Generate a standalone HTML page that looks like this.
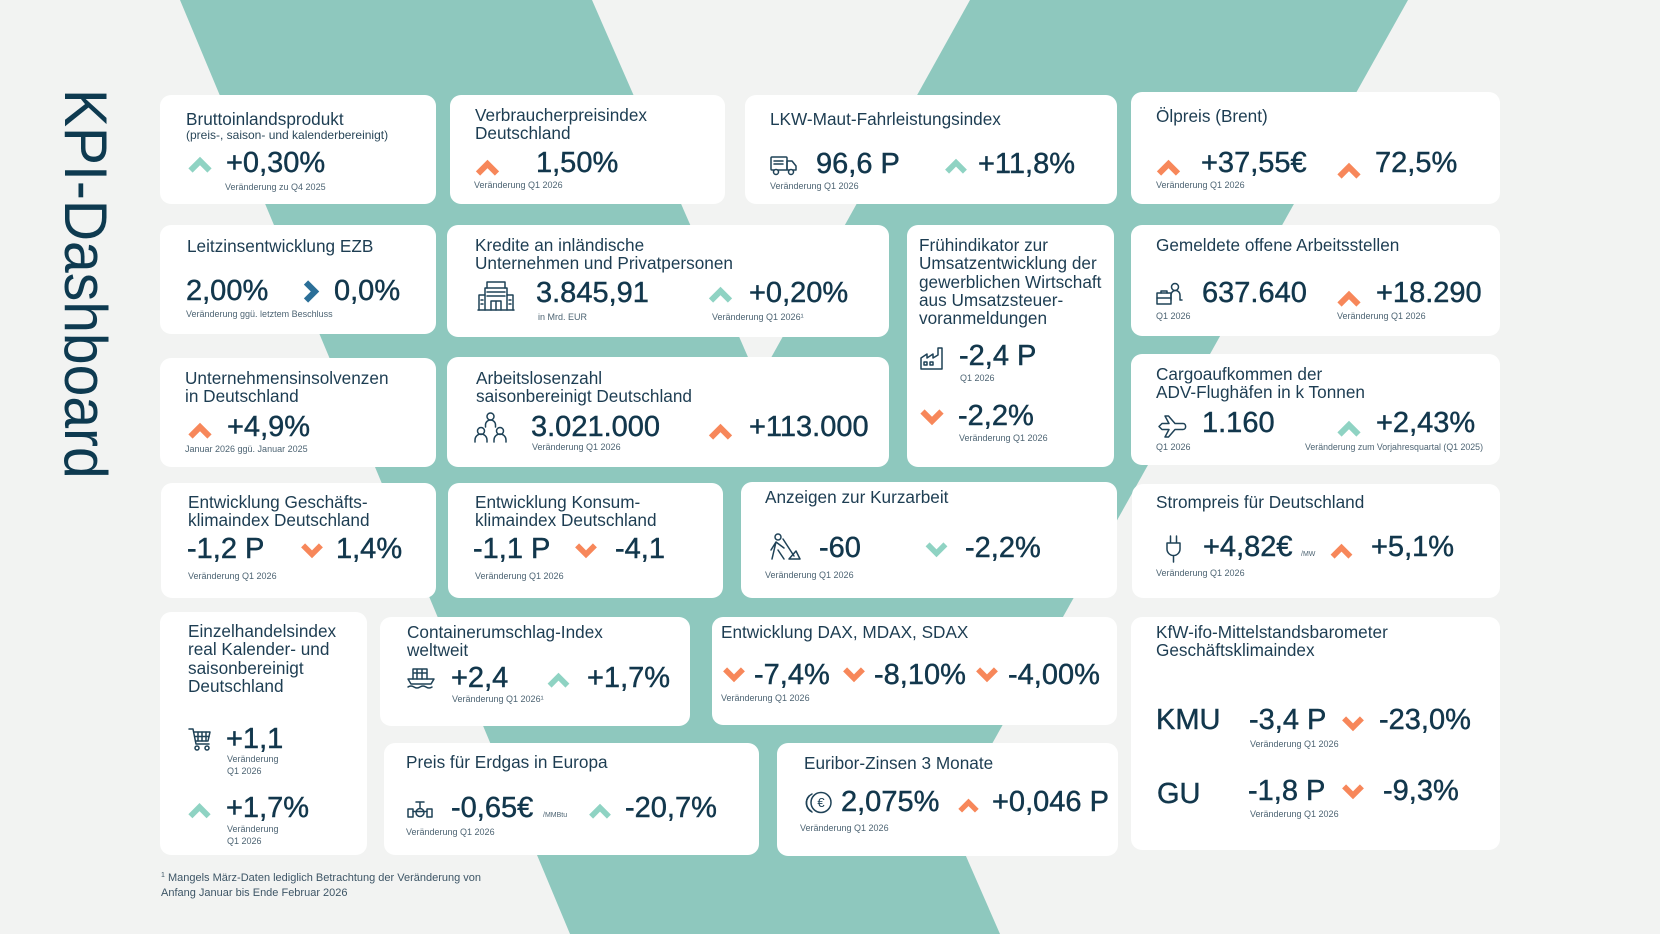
<!DOCTYPE html>
<html><head><meta charset="utf-8"><style>
*{margin:0;padding:0;box-sizing:border-box}
html,body{width:1660px;height:934px;overflow:hidden}
body{position:relative;background:#f2f3f2;font-family:"Liberation Sans",sans-serif}
.bg{position:absolute;left:0;top:0}
.c{position:absolute;background:#fff;border-radius:11px}
.t{position:absolute;font-size:17.2px;line-height:18.3px;color:#1d3d52;white-space:nowrap}
.s{position:absolute;font-size:12px;line-height:12px;color:#2a4759;white-space:nowrap}
.v{position:absolute;font-size:29px;line-height:29px;color:#12374c;white-space:nowrap;-webkit-text-stroke:0.45px #12374c}
.l{position:absolute;font-size:9px;line-height:9px;color:#4d6473;white-space:nowrap}
.l2{position:absolute;font-size:9px;line-height:12px;color:#4d6473;white-space:nowrap}
.u{position:absolute;font-size:7px;line-height:7px;color:#4d6473;white-space:nowrap}
.i{position:absolute;overflow:visible}
.ic{fill:none;stroke:#1f4257;stroke-width:1.5;stroke-linejoin:round;stroke-linecap:round}
.kpi{position:absolute;left:115px;top:89px;font-size:60px;line-height:60px;color:#0e3a50;white-space:nowrap;transform-origin:0 0;transform:rotate(90deg) scaleX(0.95)}
.fn{position:absolute;left:161px;top:868px;font-size:11px;line-height:15px;color:#3d5566;white-space:nowrap}
</style></head><body>
<svg class="bg" width="1660" height="934" viewBox="0 0 1660 934">
<polygon points="180,0 592,0 1000,934 570,934" fill="#8ec8be"/>
<polygon points="970,0 1408,0 950,819 519,811" fill="#8ec8be"/>
</svg>

<div class="kpi">KPI-Dashboard</div>

<!-- cards -->
<div class="c" style="left:160px;top:95px;width:276px;height:109px"></div>
<div class="c" style="left:450px;top:95px;width:275px;height:109px"></div>
<div class="c" style="left:745px;top:95px;width:372px;height:109px"></div>
<div class="c" style="left:1131px;top:92px;width:369px;height:112px"></div>
<div class="c" style="left:160px;top:225px;width:276px;height:109px"></div>
<div class="c" style="left:447px;top:225px;width:442px;height:112px"></div>
<div class="c" style="left:907px;top:225px;width:207px;height:242px"></div>
<div class="c" style="left:1131px;top:225px;width:369px;height:111px"></div>
<div class="c" style="left:160px;top:358px;width:276px;height:109px"></div>
<div class="c" style="left:447px;top:357px;width:442px;height:110px"></div>
<div class="c" style="left:1131px;top:354px;width:369px;height:111px"></div>
<div class="c" style="left:161px;top:483px;width:275px;height:115px"></div>
<div class="c" style="left:448px;top:483px;width:275px;height:115px"></div>
<div class="c" style="left:741px;top:482px;width:376px;height:116px"></div>
<div class="c" style="left:1132px;top:484px;width:368px;height:114px"></div>
<div class="c" style="left:160px;top:612px;width:207px;height:243px"></div>
<div class="c" style="left:380px;top:617px;width:310px;height:109px"></div>
<div class="c" style="left:712px;top:617px;width:405px;height:108px"></div>
<div class="c" style="left:1131px;top:617px;width:369px;height:233px"></div>
<div class="c" style="left:384px;top:743px;width:375px;height:112px"></div>
<div class="c" style="left:777px;top:743px;width:341px;height:113px"></div>

<!-- BIP -->
<div class="t" style="left:186px;top:110px">Bruttoinlandsprodukt</div>
<div class="s" style="left:186px;top:129px">(preis-, saison- und kalenderbereinigt)</div>
<svg class="i" style="left:188px;top:156px" width="24" height="16" viewBox="0 0 24 16"><path d="M2.5 14.5L12 5L21.5 14.5" fill="none" stroke="#8fd3c3" stroke-width="6"/></svg>
<div class="v" style="left:226px;top:148.5px">+0,30%</div>
<div class="l" style="left:225px;top:183.4px">Veränderung zu Q4 2025</div>

<!-- VPI -->
<div class="t" style="left:475px;top:106px">Verbraucherpreisindex<br>Deutschland</div>
<svg class="i" style="left:475px;top:159px" width="25" height="16" viewBox="0 0 24 16"><path d="M2.5 14.5L12 5L21.5 14.5" fill="none" stroke="#f7875a" stroke-width="6"/></svg>
<div class="v" style="left:536px;top:148.5px">1,50%</div>
<div class="l" style="left:474px;top:181.4px">Veränderung Q1 2026</div>

<!-- LKW -->
<div class="t" style="left:770px;top:110px">LKW-Maut-Fahrleistungsindex</div>
<svg class="i" style="left:770px;top:155px" width="27" height="21" viewBox="0 0 27 21"><g class="ic"><rect x="1" y="2" width="16" height="13" rx="1"/><path d="M17 6h5l4 5v4h-9z"/><path d="M4 6h9M4 9h9"/><circle cx="6" cy="17" r="2.5" fill="#fff"/><circle cx="21" cy="17" r="2.5" fill="#fff"/></g></svg>
<div class="v" style="left:816px;top:149.5px">96,6 P</div>
<div class="l" style="left:770px;top:182.4px">Veränderung Q1 2026</div>
<svg class="i" style="left:944px;top:158px" width="24" height="15" viewBox="0 0 24 16"><path d="M2.5 14.5L12 5L21.5 14.5" fill="none" stroke="#8fd3c3" stroke-width="6"/></svg>
<div class="v" style="left:978px;top:149.5px">+11,8%</div>

<!-- Öl -->
<div class="t" style="left:1156px;top:107px">Ölpreis (Brent)</div>
<svg class="i" style="left:1156px;top:159px" width="25" height="16" viewBox="0 0 24 16"><path d="M2.5 14.5L12 5L21.5 14.5" fill="none" stroke="#f7875a" stroke-width="6"/></svg>
<div class="v" style="left:1201px;top:148.5px">+37,55€</div>
<div class="l" style="left:1156px;top:181.4px">Veränderung Q1 2026</div>
<svg class="i" style="left:1337px;top:162px" width="24" height="16" viewBox="0 0 24 16"><path d="M2.5 14.5L12 5L21.5 14.5" fill="none" stroke="#f7875a" stroke-width="6"/></svg>
<div class="v" style="left:1375px;top:148.5px">72,5%</div>

<!-- Leitzins -->
<div class="t" style="left:187px;top:237px">Leitzinsentwicklung EZB</div>
<div class="v" style="left:186px;top:276.5px">2,00%</div>
<svg class="i" style="left:303px;top:280px" width="17" height="23" viewBox="0 0 17 23"><path d="M3 2.5L12 11.5L3 20.5" fill="none" stroke="#2b6f98" stroke-width="6"/></svg>
<div class="v" style="left:334px;top:276.5px">0,0%</div>
<div class="l" style="left:186px;top:310.4px">Veränderung ggü. letztem Beschluss</div>

<!-- Kredite -->
<div class="t" style="left:475px;top:236px">Kredite an inländische<br>Unternehmen und Privatpersonen</div>
<svg class="i" style="left:477px;top:280px" width="38" height="31" viewBox="0 0 38 31"><g class="ic"><path d="M1 30h36"/><path d="M8 30V8h22v22"/><path d="M10 8V2h18v6"/><path d="M2 30V15h6M36 30V15h-6"/><path d="M14 30v-9h10v9M19 21v9"/><path d="M10 12h18M10 16h18"/><path d="M4 20h2M4 24h2M32 20h2M32 24h2"/></g></svg>
<div class="v" style="left:536px;top:278.5px">3.845,91</div>
<div class="l" style="left:538px;top:313.4px">in Mrd. EUR</div>
<svg class="i" style="left:708px;top:286px" width="25" height="16" viewBox="0 0 24 16"><path d="M2.5 14.5L12 5L21.5 14.5" fill="none" stroke="#8fd3c3" stroke-width="6"/></svg>
<div class="v" style="left:749px;top:278.5px">+0,20%</div>
<div class="l" style="left:712px;top:313.4px">Veränderung Q1 2026¹</div>

<!-- Frühindikator -->
<div class="t" style="left:919px;top:236px">Frühindikator zur<br>Umsatzentwicklung der<br>gewerblichen Wirtschaft<br>aus Umsatzsteuer-<br>voranmeldungen</div>
<svg class="i" style="left:920px;top:347px" width="24" height="23" viewBox="0 0 24 23"><g class="ic"><path d="M1 22V11l6-4v4l6-4v4l5-3V1h4v21z"/><path d="M4 15h3v3H4zM10 15h3v3h-3z"/></g></svg>
<div class="v" style="left:959px;top:341.5px">-2,4 P</div>
<div class="l" style="left:960px;top:374.4px">Q1 2026</div>
<svg class="i" style="left:920px;top:410px" width="24" height="16" viewBox="0 0 24 16"><path d="M2.5 1.5L12 11L21.5 1.5" fill="none" stroke="#f7875a" stroke-width="6"/></svg>
<div class="v" style="left:958px;top:401.5px">-2,2%</div>
<div class="l" style="left:959px;top:434.4px">Veränderung Q1 2026</div>

<!-- Gemeldete -->
<div class="t" style="left:1156px;top:236px">Gemeldete offene Arbeitsstellen</div>
<svg class="i" style="left:1156px;top:282px" width="27" height="23" viewBox="0 0 27 23"><g class="ic"><circle cx="19" cy="5" r="3.5"/><path d="M15 18v-5a4.5 4.5 0 0 1 9 0v5h2"/><rect x="1" y="11" width="14" height="11"/><path d="M5 11V9h6v2M1 16h14"/></g></svg>
<div class="v" style="left:1202px;top:278.5px">637.640</div>
<div class="l" style="left:1156px;top:312.4px">Q1 2026</div>
<svg class="i" style="left:1337px;top:290px" width="24" height="16" viewBox="0 0 24 16"><path d="M2.5 14.5L12 5L21.5 14.5" fill="none" stroke="#f7875a" stroke-width="6"/></svg>
<div class="v" style="left:1376px;top:278.5px">+18.290</div>
<div class="l" style="left:1337px;top:312.4px">Veränderung Q1 2026</div>

<!-- Insolvenzen -->
<div class="t" style="left:185px;top:369px">Unternehmensinsolvenzen<br>in Deutschland</div>
<svg class="i" style="left:188px;top:422px" width="24" height="16" viewBox="0 0 24 16"><path d="M2.5 14.5L12 5L21.5 14.5" fill="none" stroke="#f7875a" stroke-width="6"/></svg>
<div class="v" style="left:227px;top:412.5px">+4,9%</div>
<div class="l" style="left:185px;top:445.4px">Januar 2026 ggü. Januar 2025</div>

<!-- Arbeitslose -->
<div class="t" style="left:476px;top:369px">Arbeitslosenzahl<br>saisonbereinigt Deutschland</div>
<svg class="i" style="left:474px;top:412px" width="33" height="31" viewBox="0 0 33 31"><g class="ic"><circle cx="16.5" cy="4.5" r="3.5"/><path d="M11.5 15v-2a5 5 0 0 1 10 0v2"/><circle cx="7" cy="19" r="3.5"/><path d="M1 30v-2a6 6 0 0 1 12 0v2"/><circle cx="26" cy="19" r="3.5"/><path d="M20 30v-2a6 6 0 0 1 12 0v2"/></g></svg>
<div class="v" style="left:531px;top:412.5px">3.021.000</div>
<div class="l" style="left:532px;top:443.4px">Veränderung Q1 2026</div>
<svg class="i" style="left:708px;top:423px" width="25" height="16" viewBox="0 0 24 16"><path d="M2.5 14.5L12 5L21.5 14.5" fill="none" stroke="#f7875a" stroke-width="6"/></svg>
<div class="v" style="left:749px;top:412.5px">+113.000</div>

<!-- Cargo -->
<div class="t" style="left:1156px;top:365px">Cargoaufkommen der<br>ADV-Flughäfen in k Tonnen</div>
<svg class="i" style="left:1158px;top:415px" width="29" height="23" viewBox="0 0 29 23"><path class="ic" d="M1 11.5L4 8.5H11L7 1H10.5L17 8.5H25C28.5 8.5 28.5 14.5 25 14.5H17L10.5 22H7L11 14.5H4Z"/></svg>
<div class="v" style="left:1202px;top:408.5px">1.160</div>
<div class="l" style="left:1156px;top:443.4px">Q1 2026</div>
<svg class="i" style="left:1337px;top:420px" width="24" height="16" viewBox="0 0 24 16"><path d="M2.5 14.5L12 5L21.5 14.5" fill="none" stroke="#8fd3c3" stroke-width="6"/></svg>
<div class="v" style="left:1376px;top:408.5px">+2,43%</div>
<div class="l" style="left:1305px;top:443.4px;font-size:8.8px">Veränderung zum Vorjahresquartal (Q1 2025)</div>

<!-- Geschäftsklima -->
<div class="t" style="left:188px;top:493px">Entwicklung Geschäfts-<br>klimaindex Deutschland</div>
<div class="v" style="left:187px;top:534.5px">-1,2 P</div>
<svg class="i" style="left:300px;top:544px" width="24" height="15" viewBox="0 0 24 16"><path d="M2.5 1.5L12 11L21.5 1.5" fill="none" stroke="#f7875a" stroke-width="6"/></svg>
<div class="v" style="left:336px;top:534.5px">1,4%</div>
<div class="l" style="left:188px;top:572.4px">Veränderung Q1 2026</div>

<!-- Konsumklima -->
<div class="t" style="left:475px;top:493px">Entwicklung Konsum-<br>klimaindex Deutschland</div>
<div class="v" style="left:473px;top:534.5px">-1,1 P</div>
<svg class="i" style="left:574px;top:544px" width="24" height="15" viewBox="0 0 24 16"><path d="M2.5 1.5L12 11L21.5 1.5" fill="none" stroke="#f7875a" stroke-width="6"/></svg>
<div class="v" style="left:615px;top:534.5px">-4,1</div>
<div class="l" style="left:475px;top:572.4px">Veränderung Q1 2026</div>

<!-- Kurzarbeit -->
<div class="t" style="left:765px;top:488px">Anzeigen zur Kurzarbeit</div>
<svg class="i" style="left:768px;top:533px" width="33" height="27" viewBox="0 0 33 27"><g class="ic"><circle cx="10" cy="4" r="3"/><path d="M8 9l-4 17M8 9l8 6M8 9l-5 8M10 17l6 9M15 6l11 17M21 26h11l-4-8z"/></g></svg>
<div class="v" style="left:819px;top:533.5px">-60</div>
<svg class="i" style="left:924px;top:543px" width="25" height="15" viewBox="0 0 24 16"><path d="M2.5 1.5L12 11L21.5 1.5" fill="none" stroke="#8fd3c3" stroke-width="6"/></svg>
<div class="v" style="left:965px;top:533.5px">-2,2%</div>
<div class="l" style="left:765px;top:571.4px">Veränderung Q1 2026</div>

<!-- Strompreis -->
<div class="t" style="left:1156px;top:493px">Strompreis für Deutschland</div>
<svg class="i" style="left:1166px;top:535px" width="15" height="27" viewBox="0 0 15 27"><g class="ic"><path d="M4.5 1v7M10.5 1v7M1 8h13v6a6.5 6.5 0 0 1-13 0z M7.5 20.5V27"/></g></svg>
<div class="v" style="left:1203px;top:532.5px">+4,82€</div>
<div class="u" style="left:1301px;top:551px">/MW</div>
<svg class="i" style="left:1330px;top:543px" width="23" height="15" viewBox="0 0 24 16"><path d="M2.5 14.5L12 5L21.5 14.5" fill="none" stroke="#f7875a" stroke-width="6"/></svg>
<div class="v" style="left:1371px;top:532.5px">+5,1%</div>
<div class="l" style="left:1156px;top:569.4px">Veränderung Q1 2026</div>

<!-- Einzelhandel -->
<div class="t" style="left:188px;top:622px">Einzelhandelsindex<br>real Kalender- und<br>saisonbereinigt<br>Deutschland</div>
<svg class="i" style="left:188px;top:727px" width="23" height="25" viewBox="0 0 23 25"><g class="ic"><path d="M1 2h4l3 15h13"/><path d="M6 5h16l-2 9H7.5"/><path d="M10 5v9M14 5v9M18 5v9M7 9.5h14"/><circle cx="9" cy="21" r="2"/><circle cx="19" cy="21" r="2"/></g></svg>
<div class="v" style="left:226px;top:724.5px">+1,1</div>
<div class="l2" style="left:227px;top:753px">Veränderung<br>Q1 2026</div>
<svg class="i" style="left:188px;top:802px" width="23" height="16" viewBox="0 0 24 16"><path d="M2.5 14.5L12 5L21.5 14.5" fill="none" stroke="#8fd3c3" stroke-width="6"/></svg>
<div class="v" style="left:226px;top:793.5px">+1,7%</div>
<div class="l2" style="left:227px;top:823px">Veränderung<br>Q1 2026</div>

<!-- Container -->
<div class="t" style="left:407px;top:623px">Containerumschlag-Index<br>weltweit</div>
<svg class="i" style="left:407px;top:667px" width="28" height="21" viewBox="0 0 28 21"><g class="ic"><path d="M1 12h26l-3 5H4z"/><path d="M6 12V2h14v10M6 6h14M10 2v10M15 2v10"/><path d="M1 20q3-2 6 0t6 0t6 0t6 0"/></g></svg>
<div class="v" style="left:451px;top:663.5px">+2,4</div>
<div class="l" style="left:452px;top:695.4px">Veränderung Q1 2026¹</div>
<svg class="i" style="left:546px;top:672px" width="25" height="15" viewBox="0 0 24 16"><path d="M2.5 14.5L12 5L21.5 14.5" fill="none" stroke="#8fd3c3" stroke-width="6"/></svg>
<div class="v" style="left:587px;top:663.5px">+1,7%</div>

<!-- DAX -->
<div class="t" style="left:721px;top:623px">Entwicklung DAX, MDAX, SDAX</div>
<svg class="i" style="left:722px;top:668px" width="24" height="15" viewBox="0 0 24 16"><path d="M2.5 1.5L12 11L21.5 1.5" fill="none" stroke="#f7875a" stroke-width="6"/></svg>
<div class="v" style="left:754px;top:660.5px">-7,4%</div>
<svg class="i" style="left:842px;top:668px" width="24" height="15" viewBox="0 0 24 16"><path d="M2.5 1.5L12 11L21.5 1.5" fill="none" stroke="#f7875a" stroke-width="6"/></svg>
<div class="v" style="left:874px;top:660.5px">-8,10%</div>
<svg class="i" style="left:975px;top:668px" width="24" height="15" viewBox="0 0 24 16"><path d="M2.5 1.5L12 11L21.5 1.5" fill="none" stroke="#f7875a" stroke-width="6"/></svg>
<div class="v" style="left:1008px;top:660.5px">-4,00%</div>
<div class="l" style="left:721px;top:694.4px">Veränderung Q1 2026</div>

<!-- KfW -->
<div class="t" style="left:1156px;top:623px">KfW-ifo-Mittelstandsbarometer<br>Geschäftsklimaindex</div>
<div class="v" style="left:1156px;top:705.5px">KMU</div>
<div class="v" style="left:1249px;top:705.5px">-3,4 P</div>
<svg class="i" style="left:1341px;top:717px" width="24" height="15" viewBox="0 0 24 16"><path d="M2.5 1.5L12 11L21.5 1.5" fill="none" stroke="#f7875a" stroke-width="6"/></svg>
<div class="v" style="left:1379px;top:705.5px">-23,0%</div>
<div class="l" style="left:1250px;top:740.4px">Veränderung Q1 2026</div>
<div class="v" style="left:1157px;top:779.5px">GU</div>
<div class="v" style="left:1248px;top:776.5px">-1,8 P</div>
<svg class="i" style="left:1341px;top:785px" width="24" height="15" viewBox="0 0 24 16"><path d="M2.5 1.5L12 11L21.5 1.5" fill="none" stroke="#f7875a" stroke-width="6"/></svg>
<div class="v" style="left:1383px;top:776.5px">-9,3%</div>
<div class="l" style="left:1250px;top:810.4px">Veränderung Q1 2026</div>

<!-- Erdgas -->
<div class="t" style="left:406px;top:753px">Preis für Erdgas in Europa</div>
<svg class="i" style="left:407px;top:800px" width="26" height="18" viewBox="0 0 26 18"><g class="ic"><path d="M1 9h5v8H1zM20 9h5v8h-5z"/><path d="M6 11.5h14"/><circle cx="13" cy="12.5" r="4"/><path d="M13 8.5V3M9 2h8"/></g></svg>
<div class="v" style="left:451px;top:793.5px">-0,65€</div>
<div class="u" style="left:543px;top:812px">/MMBtu</div>
<svg class="i" style="left:588px;top:803px" width="24" height="15" viewBox="0 0 24 16"><path d="M2.5 14.5L12 5L21.5 14.5" fill="none" stroke="#8fd3c3" stroke-width="6"/></svg>
<div class="v" style="left:625px;top:793.5px">-20,7%</div>
<div class="l" style="left:406px;top:828.4px">Veränderung Q1 2026</div>

<!-- Euribor -->
<div class="t" style="left:804px;top:754px">Euribor-Zinsen 3 Monate</div>
<svg class="i" style="left:804px;top:791px" width="31" height="23" viewBox="0 0 31 23"><g class="ic"><path d="M8 3a10 10 0 0 0 0 18"/><path d="M5 5a10 10 0 0 0 2 15"/><circle cx="17" cy="11.5" r="10"/></g><text x="17" y="16" text-anchor="middle" font-family="Liberation Sans" font-size="13" fill="#1f4257">€</text></svg>
<div class="v" style="left:841px;top:787.5px">2,075%</div>
<svg class="i" style="left:957px;top:798px" width="23" height="14" viewBox="0 0 24 16"><path d="M2.5 14.5L12 5L21.5 14.5" fill="none" stroke="#f7875a" stroke-width="6"/></svg>
<div class="v" style="left:992px;top:787.5px">+0,046 P</div>
<div class="l" style="left:800px;top:824.4px">Veränderung Q1 2026</div>

<!-- footnote -->
<div class="fn"><span style="font-size:7px;vertical-align:4px">1</span> Mangels März-Daten lediglich Betrachtung der Veränderung von<br>Anfang Januar bis Ende Februar 2026</div>
</body></html>
